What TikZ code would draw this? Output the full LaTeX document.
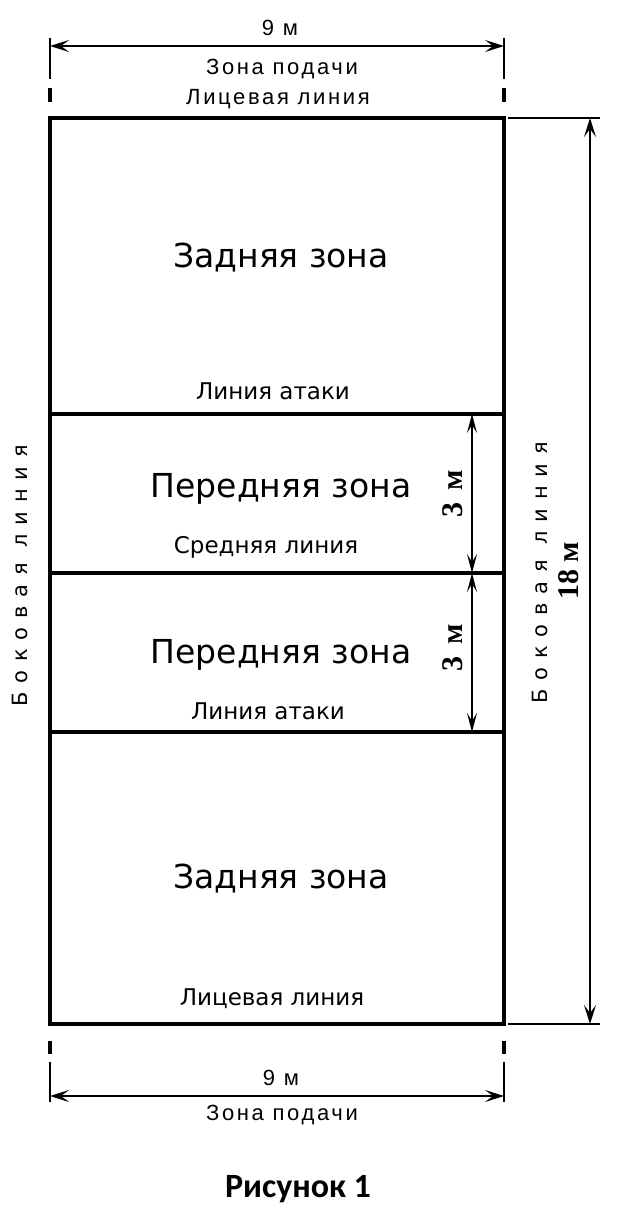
\documentclass[tikz,border=0pt]{standalone}
\usepackage{fontspec}
\setmainfont{DejaVu Sans}
\newfontfamily\narrowfont[LetterSpace=12]{Liberation Sans}
\newfontfamily\spacedfont[LetterSpace=42]{DejaVu Sans}
\newfontfamily\serifbold{Liberation Serif Bold}
\newfontfamily\figfont{Carlito Bold}
\usetikzlibrary{arrows.meta}
\begin{document}
\begin{tikzpicture}[x=1pt,y=-1pt,
  court/.style={line width=3.4pt},
  thinline/.style={line width=1.6pt},
  tickdash/.style={line width=3.2pt},
  dimarrow/.style={line width=1.6pt,{Stealth[length=19pt,width=12pt,inset=8pt]}-{Stealth[length=19pt,width=12pt,inset=8pt]}},
  smallarrow/.style={line width=1.6pt,{Stealth[length=19pt,width=10pt,inset=8pt]}-{Stealth[length=19pt,width=10pt,inset=8pt]}},
  zone/.style={font=\fontsize{33}{33}\selectfont,inner sep=0pt,anchor=base},
  lbl/.style={font=\fontsize{23}{23}\selectfont,inner sep=0pt,anchor=base},
  toplbl/.style={font=\narrowfont\fontsize{22}{22}\selectfont,inner sep=0pt,anchor=base},
  side/.style={font=\spacedfont\fontsize{21}{21}\selectfont,inner sep=0pt,rotate=90},
  meas/.style={font=\serifbold\fontsize{30}{30}\selectfont,inner sep=0pt,rotate=90},
  fig/.style={font=\figfont\fontsize{34}{34}\selectfont,inner sep=0pt,anchor=base}]
\useasboundingbox[fill=white] (0,0) rectangle (620,1227);
% court corners and lines
\coordinate (A) at (50,118);
\coordinate (B) at (504,118);
\coordinate (C) at (504,1024);
\coordinate (D) at (50,1024);
\coordinate (L1a) at (50,414);  \coordinate (L1b) at (504,414);
\coordinate (L2a) at (50,573);  \coordinate (L2b) at (504,573);
\coordinate (L3a) at (50,732);  \coordinate (L3b) at (504,732);
\draw[court] (A) -- (B) -- (C) -- (D) -- cycle;
\draw[court] (L1a) -- (L1b);
\draw[court] (L2a) -- (L2b);
\draw[court] (L3a) -- (L3b);
% top dimension
\coordinate (t1) at (50,38);  \coordinate (t2) at (50,79);
\coordinate (t3) at (504,38); \coordinate (t4) at (504,79);
\coordinate (td1) at (50,88); \coordinate (td2) at (50,102);
\coordinate (td3) at (504,88); \coordinate (td4) at (504,102);
\draw[thinline] (t1) -- (t2);
\draw[thinline] (t3) -- (t4);
\draw[tickdash] (td1) -- (td2);
\draw[tickdash] (td3) -- (td4);
\coordinate (ta) at (50,46); \coordinate (tb) at (504,46);
\draw[dimarrow] (ta) -- (tb);
\node[toplbl] (top9) at (280,35) {9 м};
\node[toplbl] (topserve) at (282,74) {Зона подачи};
\node[toplbl] (topend) at (278,104) {Лицевая линия};
% bottom dimension
\coordinate (b1) at (50,1062);  \coordinate (b2) at (50,1102);
\coordinate (b3) at (504,1062); \coordinate (b4) at (504,1102);
\coordinate (bd1) at (50,1041); \coordinate (bd2) at (50,1054);
\coordinate (bd3) at (504,1041); \coordinate (bd4) at (504,1054);
\draw[thinline] (b1) -- (b2);
\draw[thinline] (b3) -- (b4);
\draw[tickdash] (bd1) -- (bd2);
\draw[tickdash] (bd3) -- (bd4);
\coordinate (ba) at (50,1096); \coordinate (bb) at (504,1096);
\draw[dimarrow] (ba) -- (bb);
\node[toplbl] (bot9) at (281,1085) {9 м};
\node[toplbl] (botserve) at (282,1120) {Зона подачи};
\node[fig] (figure) at (298,1197) {Рисунок 1};
% right 18 m dimension
\coordinate (r1) at (508,118); \coordinate (r2) at (600,118);
\coordinate (r3) at (508,1024); \coordinate (r4) at (600,1024);
\draw[thinline] (r1) -- (r2);
\draw[thinline] (r3) -- (r4);
\coordinate (ra) at (590,118); \coordinate (rb) at (590,1024);
\draw[dimarrow] (ra) -- (rb);
\node[side] (rside) at (540,573) {Боковая линия};
\node[meas] (r18) at (569,571) {18 м};
% left label
\node[side] (lside) at (20,576) {Боковая линия};
% 3 m arrows
\coordinate (m1) at (472,414); \coordinate (m2) at (472,573); \coordinate (m3) at (472,732);
\draw[smallarrow] (m1) -- (m2);
\draw[smallarrow] (m2) -- (m3);
\node[meas] (m3a) at (453,494) {3\hspace{12pt}м};
\node[meas] (m3b) at (453,648) {3\hspace{12pt}м};
% zone labels
\node[zone] (z1) at (281,267) {Задняя зона};
\node[lbl] (l1) at (273,399) {Линия атаки};
\node[zone] (z2) at (281,497) {Передняя зона};
\node[lbl] (l2) at (266,553) {Средняя линия};
\node[zone] (z3) at (281,663) {Передняя зона};
\node[lbl] (l3) at (268,719) {Линия атаки};
\node[zone] (z4) at (281,888) {Задняя зона};
\node[lbl] (l4) at (272,1005) {Лицевая линия};
\end{tikzpicture}
\end{document}
